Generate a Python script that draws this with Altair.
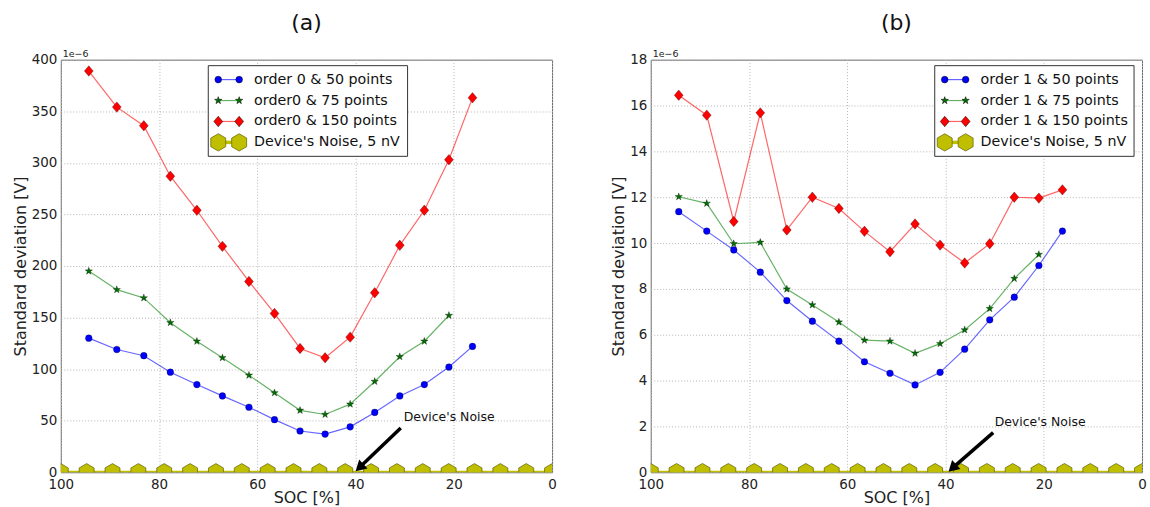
import altair as alt
import pandas as pd

# ---------------- data (values in units of 1e-6 V) ----------------
soc = [94.3, 88.6, 83.1, 77.7, 72.3, 67.1, 61.7, 56.5, 51.3, 46.2, 41.1, 36.1, 31.0, 26.0, 21.0, 16.2]

a_labels = ["order 0 & 50 points", "order0 & 75 points", "order0 & 150 points"]
a_50 = [130, 119, 113, 97, 85, 74, 63, 51, 40, 37, 44, 58, 74, 85, 102, 122]
a_75 = [195, 177, 169, 145, 127, 111, 94, 77, 60, 56, 66, 88, 112, 127, 152]
a_150 = [389, 354, 336, 287, 254, 219, 185, 154, 120, 111, 131, 174, 220, 254, 303, 363]

b_labels = ["order 1 & 50 points", "order 1 & 75 points", "order 1 & 150 points"]
b_50 = [11.37, 10.52, 9.70, 8.73, 7.49, 6.59, 5.72, 4.82, 4.32, 3.81, 4.36, 5.37, 6.65, 7.64, 9.02, 10.52]
b_75 = [12.02, 11.73, 9.97, 10.03, 7.99, 7.30, 6.55, 5.76, 5.72, 5.19, 5.61, 6.21, 7.14, 8.45, 9.50]
b_150 = [16.45, 15.58, 10.94, 15.68, 10.57, 12.00, 11.51, 10.51, 9.62, 10.83, 9.91, 9.13, 9.97, 12.00, 11.96, 12.32]

noise_label = "Device's Noise, 5 nV"
noise_soc = [100.0, 94.74, 89.47, 84.21, 78.95, 73.68, 68.42, 63.16, 57.89, 52.63,
             47.37, 42.11, 36.84, 31.58, 26.32, 21.05, 15.79, 10.53, 5.26, 0.0]
noise_level = 0.005  # 5 nV

x_ticks = [100, 80, 60, 40, 20, 0]
a_yticks = [0, 50, 100, 150, 200, 250, 300, 350, 400]
b_yticks = [0, 2, 4, 6, 8, 10, 12, 14, 16, 18]

annot_text = "Device's Noise"
# text position, arrow tail, arrow head (data coordinates)
a_annot = {"text_soc": 30.2, "text_val": 54, "tail_soc": 30.8, "tail_val": 43.0, "head_soc": 39.2, "head_val": 4.5}
b_annot = {"text_soc": 30.0, "text_val": 2.2, "tail_soc": 30.3, "tail_val": 1.73, "head_soc": 38.6, "head_val": 0.18}

# ---------------- styles ----------------
FONT = "DejaVu Sans"
STAR = ("M0,-1L0.235,-0.324L0.951,-0.309L0.38,0.124L0.588,0.809L0,0.4"
        "L-0.588,0.809L-0.38,0.124L-0.951,-0.309L-0.235,-0.324Z")
DIAMOND = "M0,-1L0.85,0L0,1L-0.85,0Z"
HEX = "M0,-1L0.866,-0.5L0.866,0.5L0,1L-0.866,0.5L-0.866,-0.5Z"
marker_colors = ["#0000ff", "#006f00", "#ff0000"]
line_colors = ["#0000ff", "#008000", "#ff0000"]
shapes = ["circle", STAR, DIAMOND]
sizes = [45, 60, 110]
NOISE_FILL = "#bfbf00"
NOISE_EDGE = "#5f5f00"

W, H = 493, 414


def one(d):
    return pd.DataFrame([d])


def panel(title, labels, series, ymax, yticks, leg_x, annot):
    xsc = alt.Scale(domain=[100, 0], nice=False, zero=False)
    ysc = alt.Scale(domain=[0, ymax], nice=False)
    xenc = alt.X("soc:Q", scale=xsc, axis=alt.Axis(values=x_ticks, title="SOC [%]"))
    yenc = alt.Y("val:Q", scale=ysc, axis=alt.Axis(values=yticks, title="Standard deviation [V]"))
    layers = []
    noise_df = pd.DataFrame({"soc": noise_soc, "val": [noise_level] * len(noise_soc)})
    layers.append(alt.Chart(noise_df).mark_line(color=NOISE_FILL, strokeWidth=3, clip=True)
                  .encode(x=xenc, y=yenc))
    for i, vals in enumerate(series):
        df = pd.DataFrame({"soc": soc[:len(vals)], "val": vals})
        base = alt.Chart(df).encode(x=xenc, y=yenc)
        layers.append(base.mark_line(color=line_colors[i], strokeWidth=1.2, opacity=0.6))
        layers.append(base.mark_point(shape=shapes[i], size=sizes[i], filled=True,
                                      fill=marker_colors[i], stroke="#000000",
                                      strokeWidth=0.5, strokeOpacity=0.6, opacity=1))
    layers.append(alt.Chart(noise_df).mark_point(shape=HEX, size=300, filled=True, fill=NOISE_FILL,
                                                 stroke=NOISE_EDGE, strokeWidth=0.7, opacity=1,
                                                 clip=True)
                  .encode(x=xenc, y=yenc))
    # annotation arrow
    adf = one(dict(annot, label=annot_text))
    layers.append(alt.Chart(adf).mark_rule(color="black", strokeWidth=3.5)
                  .encode(x=alt.X("tail_soc:Q", scale=xsc), y=alt.Y("tail_val:Q", scale=ysc),
                          x2="head_soc:Q", y2="head_val:Q"))
    layers.append(alt.Chart(adf).mark_point(shape="triangle-up", size=150, angle=227, filled=True,
                                            color="black", opacity=1)
                  .encode(x=alt.X("head_soc:Q", scale=xsc), y=alt.Y("head_val:Q", scale=ysc)))
    layers.append(alt.Chart(adf).mark_text(align="left", baseline="middle", fontSize=12.5,
                                           font=FONT, color="#111")
                  .encode(x=alt.X("text_soc:Q", scale=xsc), y=alt.Y("text_val:Q", scale=ysc),
                          text="label:N"))
    # offset text
    layers.append(alt.Chart(one({"t": "1e\u22126"})).mark_text(align="left", baseline="bottom",
                                                             fontSize=9.5, font=FONT, color="#222")
                  .encode(x=alt.value(2), y=alt.value(-1), text="t:N"))
    # legend
    bx0, bx1, by0, by1 = leg_x, leg_x + 200, 6, 97
    layers.append(alt.Chart(one({"k": 0})).mark_rect(fill="white", stroke="#333", strokeWidth=1)
                  .encode(x=alt.value(bx0), x2=alt.value(bx1), y=alt.value(by0), y2=alt.value(by1)))
    entries = labels + [noise_label]
    for i, lab in enumerate(entries):
        ry = 20 + 21 * i
        m1, m2, tx = leg_x + 10, leg_x + 31, leg_x + 46
        d1 = one({"label": lab})
        if i < 3:
            lc, lw, shp, sz, fc, sc, sw = line_colors[i], 1.2, shapes[i], sizes[i], marker_colors[i], "#000000", 0.5
            lop = 0.6
        else:
            lc, lw, shp, sz, fc, sc, sw = NOISE_FILL, 3.5, HEX, 300, NOISE_FILL, NOISE_EDGE, 0.7
            lop = 1
        layers.append(alt.Chart(d1).mark_rule(color=lc, strokeWidth=lw, opacity=lop)
                      .encode(x=alt.value(m1), x2=alt.value(m2), y=alt.value(ry)))
        for mx in (m1, m2):
            layers.append(alt.Chart(d1).mark_point(shape=shp, size=sz, filled=True, fill=fc,
                                                   stroke=sc, strokeWidth=sw, opacity=1)
                          .encode(x=alt.value(mx), y=alt.value(ry)))
        layers.append(alt.Chart(d1).mark_text(align="left", baseline="middle", fontSize=14.3,
                                              font=FONT, color="#111")
                      .encode(x=alt.value(tx), y=alt.value(ry), text="label:N"))
    return alt.layer(*layers).properties(
        width=W, height=H,
        title=alt.TitleParams(title, fontSize=22, font=FONT, fontWeight="normal",
                              anchor="middle", offset=14, color="#111"))


pa = panel("(a)", a_labels, [a_50, a_75, a_150], 400, a_yticks, 148, a_annot)
pb = panel("(b)", b_labels, [b_50, b_75, b_150], 18, b_yticks, 285, b_annot)

chart = (alt.hconcat(pa, pb, spacing=99, bounds="flush")
         .properties(padding={"left": 11, "top": 10, "right": 3, "bottom": 2})
         .configure_view(stroke="#666", strokeWidth=1)
         .configure_axis(grid=True, gridColor="#b5b5b5", gridDash=[1, 2], gridWidth=1,
                         ticks=False, domain=False, labelFont=FONT, labelFontSize=13.5,
                         labelColor="#222", titleFont=FONT, titleFontSize=16,
                         titleFontWeight="normal", titleColor="#222", labelFlush=False,
                         labelPadding=4)
         .configure_axisX(titlePadding=-1, labelPadding=5)
         .configure_axisY(titlePadding=3))

chart.save("out.html", embed_options={"renderer": "svg", "actions": False})
